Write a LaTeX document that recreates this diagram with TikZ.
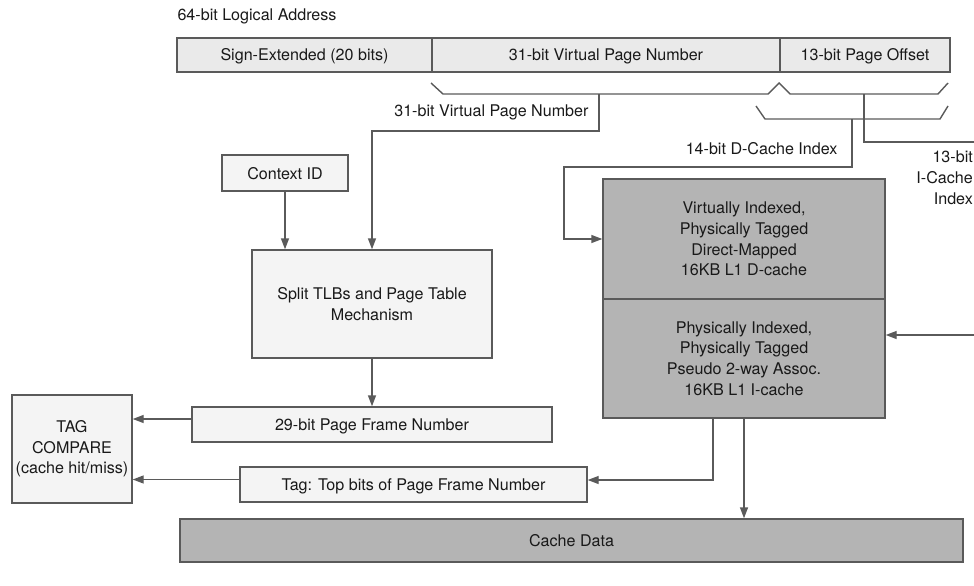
\documentclass[tikz,border=0pt]{standalone}
\usepackage{fontspec}
\setmainfont{TeX Gyre Heros}
\usetikzlibrary{arrows.meta}
\definecolor{lineg}{RGB}{90,90,90}
\definecolor{boxlight}{RGB}{244,244,244}
\definecolor{barlight}{RGB}{234,234,234}
\definecolor{boxdark}{RGB}{180,180,180}
\begin{document}
\begin{tikzpicture}[x=1pt, y=-1pt,
    every node/.style={font=\fontsize{16.1}{20.6}\selectfont, text=black!90},
    wire/.style={draw=lineg, line width=1.4pt},
    arr/.style={wire, -{Triangle[length=11pt,width=8pt]}},
    lbox/.style={draw=lineg, line width=1.4pt, fill=boxlight, inner sep=0pt, align=center},
    oneline/.style={text height=13.5pt, text depth=1.5pt},
    field/.style={lbox, oneline, fill=barlight, minimum height=34pt},
    dbox/.style={lbox, fill=boxdark}]
        \useasboundingbox (0,0) rectangle (974,586);

        % --- 1. Logical address ---
        \node[anchor=west] (title) at (174,16) {64-bit Logical Address};
        \node[field, minimum width=255pt] (sign) at (304.5,55) {Sign-Extended (20 bits)};
        \node[field, minimum width=348pt] (vpn) at (606,55) {31-bit Virtual Page Number};
        \node[field, minimum width=170pt] (off) at (865,55) {13-bit Page Offset};

        % brackets under the fields
        \draw[wire] (431,83) -- (443,94) -- (768,94) -- (779,83) -- (790,94) -- (938,94) -- (948,83);
        \draw[wire] (756,106) -- (765,119) -- (940,119) -- (948,106);
        \coordinate (vtap) at (599,94);
        \coordinate (vbend) at (599,131);
        \coordinate (dtap) at (852,119);
        \coordinate (dbend) at (564,167);
        \coordinate (itap) at (864,94);
        \coordinate (iend) at (974,142);
        \coordinate (iin) at (974,335);

        % --- 2. Translation ---
        \node[lbox, oneline, minimum width=126pt, minimum height=36pt] (ctx) at (285,173) {Context ID};
        \node[lbox, minimum width=240pt, minimum height=108pt] (tlb) at (372,304) {Split TLBs and Page Table\\Mechanism};
        \node[lbox, oneline, minimum width=360pt, minimum height=35pt] (pfn) at (372,424.5) {29-bit Page Frame Number};
        \node[lbox, minimum width=120pt, minimum height=108pt] (tagc) at (72,449) {TAG\\COMPARE\\(cache hit/miss)};
        \node[lbox, oneline, minimum width=347pt, minimum height=35pt] (tagb) at (413.5,484.5) {Tag: Top bits of Page Frame Number};

        % --- 3. Caches ---
        \node[dbox, minimum width=282pt, minimum height=120pt] (dc) at (744,239) {Virtually Indexed,\\Physically Tagged\\Direct-Mapped\\16KB L1 D-cache};
        \node[dbox, minimum width=282pt, minimum height=119pt] (ic) at (744,358.5) {Physically Indexed,\\Physically Tagged\\Pseudo 2-way Assoc.\\16KB L1 I-cache};
        \node[dbox, oneline, minimum width=783pt, minimum height=43pt] (data) at (571.5,540.5) {Cache Data};

        % labels on the wires
        \node[anchor=east] (vlab) at (592,112) {31-bit Virtual Page Number};
        \node[anchor=east] (dlab) at (841,149) {14-bit D-Cache Index};
        \node[anchor=north east, align=right, inner sep=0pt] (ilab) at (973,151) {13-bit\\I-Cache\\Index};

        % --- 4. Connectors ---
        \draw[arr] (vtap) -- (vbend) -| (tlb.north);
        \draw[arr] (ctx.south) -- (ctx.south |- tlb.north);
        \draw[arr] (dtap) |- (dbend) |- (dc.west);
        \draw[wire] (itap) |- (iend);
        \draw[arr] (iin) -- (iin -| ic.east);
        \draw[arr] (tlb.south) -- (pfn.north);
        \draw[arr] ([yshift=5.5pt]pfn.west) -- ([yshift=5.5pt]pfn.west -| tagc.east);
        \draw[arr] ([yshift=5pt]tagb.west) -- ([yshift=5pt]tagb.west -| tagc.east);
        \draw[arr] ([xshift=-31pt]ic.south) |- ([yshift=4.5pt]tagb.east);
        \draw[arr] (ic.south) -- (ic.south |- data.north);

    \end{tikzpicture}
\end{document}
